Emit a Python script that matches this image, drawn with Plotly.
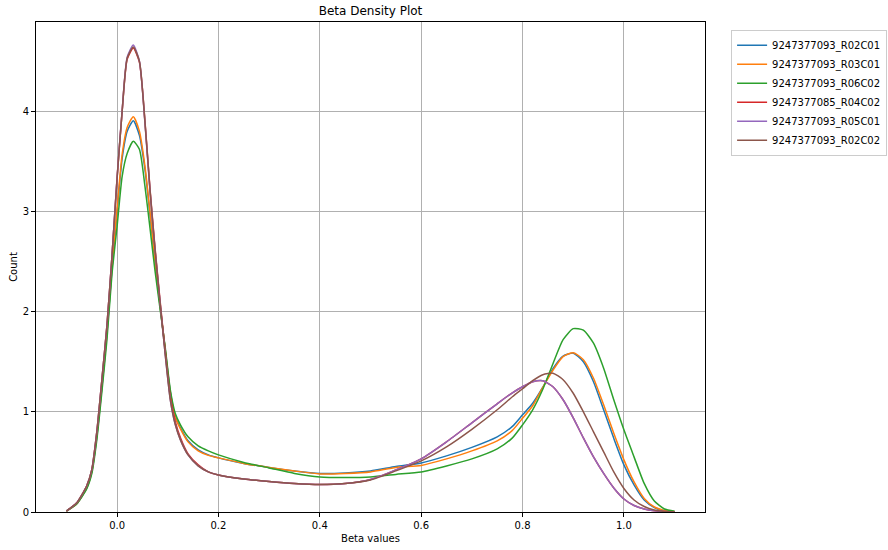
import plotly.graph_objects as go

x_grid = [-0.1, -0.08, -0.06, -0.05, -0.04, -0.03, -0.02, -0.01, 0.0, 0.01, 0.02, 0.032, 0.044,
          0.055, 0.065, 0.075, 0.085, 0.095, 0.105, 0.115, 0.125, 0.14, 0.16, 0.18, 0.2, 0.25,
          0.3, 0.35, 0.4, 0.45, 0.5, 0.55, 0.6, 0.65, 0.7, 0.75, 0.78, 0.8, 0.82, 0.84, 0.86,
          0.88, 0.9, 0.92, 0.94, 0.96, 0.98, 1.0, 1.02, 1.04, 1.06, 1.08, 1.1]

sample_names = ["9247377093_R02C01", "9247377093_R03C01", "9247377093_R06C02",
                "9247377085_R04C02", "9247377093_R05C01", "9247377093_R02C02"]

r02c01 = [0.01, 0.08, 0.24, 0.40, 0.75, 1.24, 1.78, 2.43, 3.00, 3.53, 3.80, 3.905, 3.76,
          3.42, 2.97, 2.50, 2.05, 1.62, 1.20, 0.95, 0.84, 0.71, 0.62, 0.57, 0.54, 0.485,
          0.445, 0.41, 0.385, 0.39, 0.41, 0.455, 0.49, 0.56, 0.645, 0.75, 0.855, 0.97, 1.085,
          1.245, 1.43, 1.555, 1.585, 1.50, 1.30, 1.02, 0.735, 0.47, 0.27, 0.12, 0.045, 0.012, 0.003]

r03c01 = [0.01, 0.08, 0.24, 0.40, 0.76, 1.25, 1.79, 2.45, 3.03, 3.57, 3.84, 3.945, 3.80,
          3.45, 2.99, 2.50, 2.05, 1.62, 1.19, 0.94, 0.83, 0.70, 0.61, 0.565, 0.54, 0.485,
          0.445, 0.41, 0.38, 0.385, 0.40, 0.445, 0.465, 0.53, 0.61, 0.71, 0.815, 0.935, 1.06,
          1.245, 1.415, 1.55, 1.59, 1.52, 1.335, 1.07, 0.785, 0.52, 0.30, 0.135, 0.05, 0.015, 0.004]

r06c02 = [0.01, 0.08, 0.23, 0.38, 0.72, 1.20, 1.72, 2.38, 2.85, 3.35, 3.58, 3.70, 3.62,
          3.25, 2.83, 2.40, 2.02, 1.64, 1.22, 0.98, 0.87, 0.75, 0.66, 0.61, 0.57, 0.495,
          0.44, 0.385, 0.35, 0.345, 0.35, 0.375, 0.40, 0.46, 0.53, 0.63, 0.74, 0.87, 1.02,
          1.225, 1.48, 1.72, 1.83, 1.815, 1.685, 1.435, 1.12, 0.82, 0.55, 0.285, 0.11, 0.03, 0.008]

r04c02 = [0.01, 0.09, 0.26, 0.42, 0.80, 1.32, 1.86, 2.56, 3.33, 4.00, 4.52, 4.63, 4.49,
          3.90, 3.22, 2.63, 2.10, 1.60, 1.15, 0.90, 0.74, 0.58, 0.47, 0.40, 0.37, 0.33,
          0.305, 0.285, 0.275, 0.285, 0.325, 0.42, 0.53, 0.70, 0.89, 1.08, 1.19, 1.25, 1.30,
          1.31, 1.25, 1.12, 0.94, 0.74, 0.55, 0.385, 0.24, 0.13, 0.065, 0.03, 0.012, 0.004, 0.001]

r05c01 = [0.01, 0.09, 0.26, 0.42, 0.80, 1.32, 1.86, 2.56, 3.34, 4.01, 4.54, 4.66, 4.50,
          3.88, 3.20, 2.61, 2.08, 1.57, 1.12, 0.87, 0.72, 0.57, 0.46, 0.40, 0.37, 0.33,
          0.305, 0.285, 0.275, 0.285, 0.325, 0.42, 0.53, 0.70, 0.89, 1.08, 1.19, 1.25, 1.30,
          1.31, 1.25, 1.12, 0.94, 0.74, 0.55, 0.385, 0.24, 0.13, 0.065, 0.03, 0.012, 0.004, 0.001]

r02c02 = [0.01, 0.09, 0.26, 0.42, 0.80, 1.32, 1.86, 2.56, 3.33, 4.00, 4.53, 4.64, 4.50,
          3.89, 3.21, 2.61, 2.08, 1.57, 1.12, 0.87, 0.72, 0.57, 0.46, 0.40, 0.37, 0.33,
          0.305, 0.285, 0.275, 0.285, 0.32, 0.41, 0.51, 0.65, 0.825, 1.02, 1.15, 1.23, 1.31,
          1.37, 1.385, 1.32, 1.185, 1.00, 0.80, 0.60, 0.40, 0.235, 0.12, 0.055, 0.02, 0.006, 0.002]

series = [r02c01, r03c01, r06c02, r04c02, r05c01, r02c02]
colors = ["#1f77b4", "#ff7f0e", "#2ca02c", "#d62728", "#9467bd", "#8c564b"]

x_ticks = [0.0, 0.2, 0.4, 0.6, 0.8, 1.0]
x_tick_labels = ["0.0", "0.2", "0.4", "0.6", "0.8", "1.0"]
y_ticks = [0, 1, 2, 3, 4]

fig = go.Figure()
for name, ys, c in zip(sample_names, series, colors):
    fig.add_trace(go.Scatter(x=x_grid, y=ys, mode="lines", name=name,
                             line=dict(color=c, width=1.5, shape="spline", smoothing=0.6)))

font = "DejaVu Sans"
axis_common = dict(showline=True, linecolor="black", linewidth=1, mirror=True,
                   ticks="outside", ticklen=4, tickcolor="black", tickwidth=1,
                   showgrid=True, gridcolor="#b0b0b0", gridwidth=0.8, automargin=False,
                   zeroline=False, tickfont=dict(family=font, size=10, color="black"))

fig.update_layout(
    width=888, height=550,
    paper_bgcolor="white", plot_bgcolor="white",
    margin=dict(l=36, r=183, t=22, b=38, autoexpand=False),
    title=dict(text="Beta Density Plot", x=0.5, xref="paper", xanchor="center",
               y=1, yref="paper", yanchor="bottom", pad=dict(b=7),
               font=dict(family=font, size=12, color="black")),
    xaxis=dict(range=[-0.16, 1.16], tickvals=x_ticks, ticktext=x_tick_labels,
               title=dict(text="Beta values", font=dict(family=font, size=10, color="black"),
                          standoff=4),
               **axis_common),
    yaxis=dict(range=[0, 4.89], tickvals=y_ticks,
               title=dict(text="Count", font=dict(family=font, size=10, color="black"),
                          standoff=3),
               **axis_common),
    legend=dict(x=1.039, y=0.984, xanchor="left", yanchor="top",
                bordercolor="#cccccc", borderwidth=1, bgcolor="white",
                font=dict(family=font, size=10, color="black"),
                tracegroupgap=0, itemwidth=30),
    showlegend=True,
)

fig.write_html("out.html", config={"displayModeBar": False},
               post_script="document.body.style.margin='0';")
